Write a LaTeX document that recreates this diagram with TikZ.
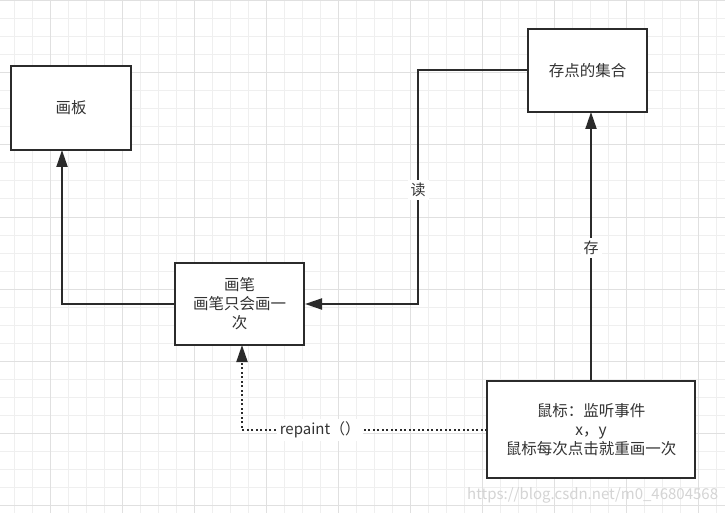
\documentclass[tikz,border=0pt]{standalone}
\usepackage{fontspec}
\setmainfont{Noto Sans CJK SC}
\usetikzlibrary{arrows.meta}
\definecolor{ln}{HTML}{2B2B2B}
\definecolor{txt}{HTML}{333333}
\definecolor{gridc}{HTML}{EFEFEF}
\definecolor{gridm}{HTML}{E0E0E0}
\definecolor{wm}{HTML}{D4D4D4}
\begin{document}
\begin{tikzpicture}[x=1pt,y=-1pt,
  box/.style={draw=ln, line width=2pt, fill=white, inner sep=0pt, text=txt,
    font=\fontsize{15.5}{19}\selectfont, align=center, minimum width=#1},
  conn/.style={draw=ln, line width=2pt, -{Triangle[length=17pt,width=11pt]}},
  dotconn/.style={draw=ln, line width=2pt, dash pattern=on 2pt off 2.5pt,
    -{Triangle[length=17pt,width=11pt]}},
  lbl/.style={fill=white, text=txt, font=\fontsize{15}{17}\selectfont, inner sep=3pt},
  wmark/.style={text=wm, font=\fontsize{15}{17}\selectfont, inner sep=0pt}
]
\fill[white] (0,0) rectangle (725,513);
\useasboundingbox (0,0) rectangle (725,513);
% grid
\foreach \k in {0,...,39} {
  \draw[gridc, line width=1pt] ({14+18*\k},0) -- ({14+18*\k},513);
}
\foreach \k in {0,...,28} {
  \draw[gridc, line width=1pt] (0,{1+18*\k}) -- (725,{1+18*\k});
}
\foreach \k in {0,...,9} {
  \draw[gridm, line width=1pt] ({50+72*\k},0) -- ({50+72*\k},513);
}
\foreach \k in {0,...,7} {
  \draw[gridm, line width=1pt] (0,{1+72*\k}) -- (725,{1+72*\k});
}
% watermark
\node[wmark, anchor=west] (wm) at (467,495) {https://blog.csdn.net/m0\_46804568};
% boxes
\node[box=120pt, minimum height=84pt] (board) at (71,108) {画板};
\node[box=119pt, minimum height=83pt] (store) at (587.5,70.5) {存点的集合};
\node[box=129pt, minimum height=82pt] (pen) at (239.5,304) {画笔\\画笔只会画一\\次};
\node[box=208pt, minimum height=97pt] (mouse) at (591,429.5) {鼠标：监听事件\\x，y\\鼠标每次点击就重画一次};
% connector coordinates
\coordinate (c1) at (62,304);
\coordinate (c1t) at (62,150);
\coordinate (c2) at (418,70.5);
\coordinate (c3) at (418,304);
\coordinate (s0) at (591,381);
\coordinate (s1) at (591,112);
\coordinate (c4) at (242,430);
\coordinate (c4s) at (487,430);
\coordinate (c4t) at (242,345);
% connectors
\draw[conn] (pen.west) -- (c1) -- (c1t);
\draw[conn] (store.west) -- (c2) -- (c3) -- (pen.east);
\draw[conn] (s0) -- (s1);
\draw[dotconn] (c4s) -- (c4) -- (c4t);
% labels
\node[lbl] (read) at (418,190) {读};
\node[lbl] (save) at (591,248) {存};
\node[lbl] (rep) at (320,430) {repaint（）};
\end{tikzpicture}
\end{document}
